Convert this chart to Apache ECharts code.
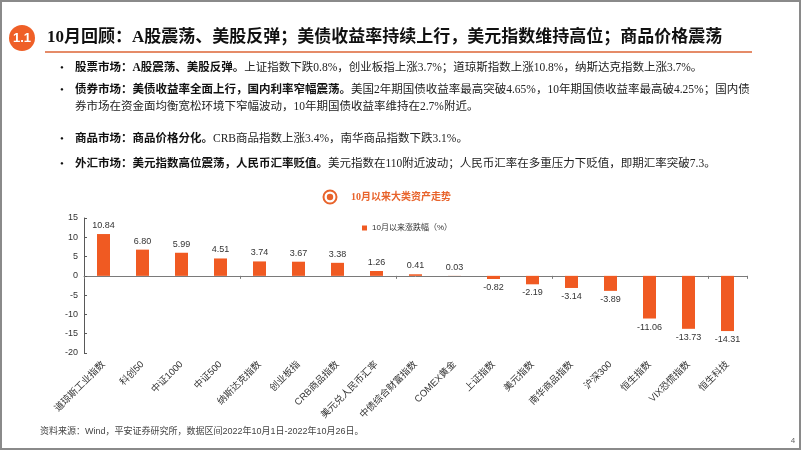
<!DOCTYPE html>
<html><head><meta charset="utf-8">
<script src="https://cdn.jsdelivr.net/npm/echarts@6/dist/echarts.min.js"></script>
<style>html,body{margin:0;padding:0;background:#fff}#c{width:802px;height:451px}</style>
</head><body><div id="c"></div>
<script>
// ---- data ----
const categories = ['道琼斯工业指数','科创50','中证1000','中证500','纳斯达克指数','创业板指','CRB商品指数','美元兑人民币汇率','中债综合财富指数','COMEX黄金','上证指数','美元指数','南华商品指数','沪深300','恒生指数','VIX恐慌指数','恒生科技'];
const values = [10.84, 6.80, 5.99, 4.51, 3.74, 3.67, 3.38, 1.26, 0.41, 0.03, -0.82, -2.19, -3.14, -3.89, -11.06, -13.73, -14.31];
const yMin = -20, yMax = 15, yInterval = 5;
const seriesName = '10月以来涨跌幅（%）';
const badgeText = '1.1';
const pageTitle = '10月回顾：A股震荡、美股反弹；美债收益率持续上行，美元指数维持高位；商品价格震荡';
const chartTitle = '10月以来大类资产走势';
const bulletBold = ['股票市场：A股震荡、美股反弹。', '债券市场：美债收益率全面上行，国内利率窄幅震荡。', '商品市场：商品价格分化。', '外汇市场：美元指数高位震荡，人民币汇率贬值。'];
const bulletNormal = ['上证指数下跌0.8%，创业板指上涨3.7%；道琼斯指数上涨10.8%，纳斯达克指数上涨3.7%。', '美国2年期国债收益率最高突破4.65%，10年期国债收益率最高破4.25%；国内债', 'CRB商品指数上涨3.4%，南华商品指数下跌3.1%。', '美元指数在110附近波动；人民币汇率在多重压力下贬值，即期汇率突破7.3。'];
const bulletCont = '券市场在资金面均衡宽松环境下窄幅波动，10年期国债收益率维持在2.7%附近。';
const sourceText = '资料来源：Wind，平安证券研究所，数据区间2022年10月1日-2022年10月26日。';
const pageNum = '4';

// ---- styles ----
const ORANGE = '#F05A22';
const serifFont = "'Liberation Serif','Noto Sans CJK SC'";
const sansFont = "'Liberation Sans','Noto Sans CJK SC'";
const bulletY = [68, 90, 139, 164];
const contY = 107;

const graphics = [
  {type:'rect', shape:{x:1, y:1, width:799, height:448}, style:{fill:'none', stroke:'#8a8a8a', lineWidth:2}, silent:true},
  {type:'circle', shape:{cx:22, cy:38, r:13}, style:{fill:'#EF5F27'}},
  {type:'text', x:22, y:38, style:{text:badgeText, fill:'#fff', font:"bold 13px 'Liberation Sans'", align:'center', verticalAlign:'middle'}},
  {type:'text', x:47, y:38, style:{text:pageTitle, fill:'#111', font:"bold 17px 'Liberation Serif','Noto Sans CJK SC'", verticalAlign:'middle'}},
  {type:'line', shape:{x1:45, y1:52, x2:752, y2:52}, style:{stroke:'#E58B68', lineWidth:2}},
  {type:'circle', shape:{cx:330, cy:197, r:6.5}, style:{fill:'none', stroke:'#E8632B', lineWidth:2}},
  {type:'circle', shape:{cx:330, cy:197, r:3.2}, style:{fill:'#E8632B'}},
  {type:'text', x:351, y:197, style:{text:chartTitle, fill:'#E8632B', font:"bold 10px " + serifFont, verticalAlign:'middle'}},
  {type:'text', x:40, y:432, style:{text:sourceText, fill:'#444', font:"9px " + sansFont, verticalAlign:'middle'}},
  {type:'text', x:793, y:441, style:{text:pageNum, fill:'#666', font:"8px " + sansFont, align:'center', verticalAlign:'middle'}}
];
for (let i = 0; i < bulletBold.length; i++) {
  graphics.push({type:'text', x:62, y:bulletY[i], style:{text:'•', fill:'#111', font:"11px " + serifFont, align:'center', verticalAlign:'middle'}});
  graphics.push({type:'text', x:75, y:bulletY[i], style:{
    text:'{b|' + bulletBold[i] + '}{n|' + bulletNormal[i] + '}',
    verticalAlign:'middle',
    rich:{
      b:{fontWeight:'bold', fontSize:11.5, fontFamily:serifFont, fill:'#111'},
      n:{fontSize:11.5, fontFamily:serifFont, fill:'#222'}
    }
  }});
}
graphics.push({type:'text', x:75, y:contY, style:{text:bulletCont, fill:'#222', font:"11.5px " + serifFont, verticalAlign:'middle'}});

const chart = echarts.init(document.getElementById('c'), null, {renderer:'canvas'});
chart.setOption({
  animation:false,
  backgroundColor:'#fff',
  graphic:graphics,
  legend:{
    data:[seriesName], left:357, top:219, icon:'rect', itemWidth:5, itemHeight:5,
    textStyle:{fontSize:8, color:'#333', fontFamily:sansFont}
  },
  grid:{left:84, right:55, top:218, bottom:98},
  xAxis:[
    {type:'category', data:categories, position:'top',
     axisLine:{onZero:true, lineStyle:{color:'#7a7a7a', width:1}},
     axisTick:{show:true, inside:true, length:3, lineStyle:{color:'#7a7a7a'}},
     axisLabel:{show:false}},
    {type:'category', data:categories, position:'bottom',
     axisLine:{show:false, onZero:false}, axisTick:{show:false},
     axisLabel:{interval:0, rotate:45, fontSize:9.5, color:'#333', margin:10, fontFamily:sansFont}}
  ],
  yAxis:{type:'value', min:yMin, max:yMax, interval:yInterval,
    axisLine:{show:true, lineStyle:{color:'#595959'}},
    axisTick:{show:true, inside:true, length:3, lineStyle:{color:'#595959'}},
    splitLine:{show:false},
    axisLabel:{fontSize:9, color:'#333', margin:6, fontFamily:sansFont}},
  series:[{
    name:seriesName, type:'bar', xAxisIndex:0, barWidth:13,
    itemStyle:{color:ORANGE},
    data:values.map(v => ({value:v, label:{position: v >= 0 ? 'top' : 'bottom'}})),
    label:{show:true, distance:4, fontSize:9, color:'#333', fontFamily:sansFont,
      formatter: p => p.value.toFixed(2)}
  }]
});
</script></body></html>
